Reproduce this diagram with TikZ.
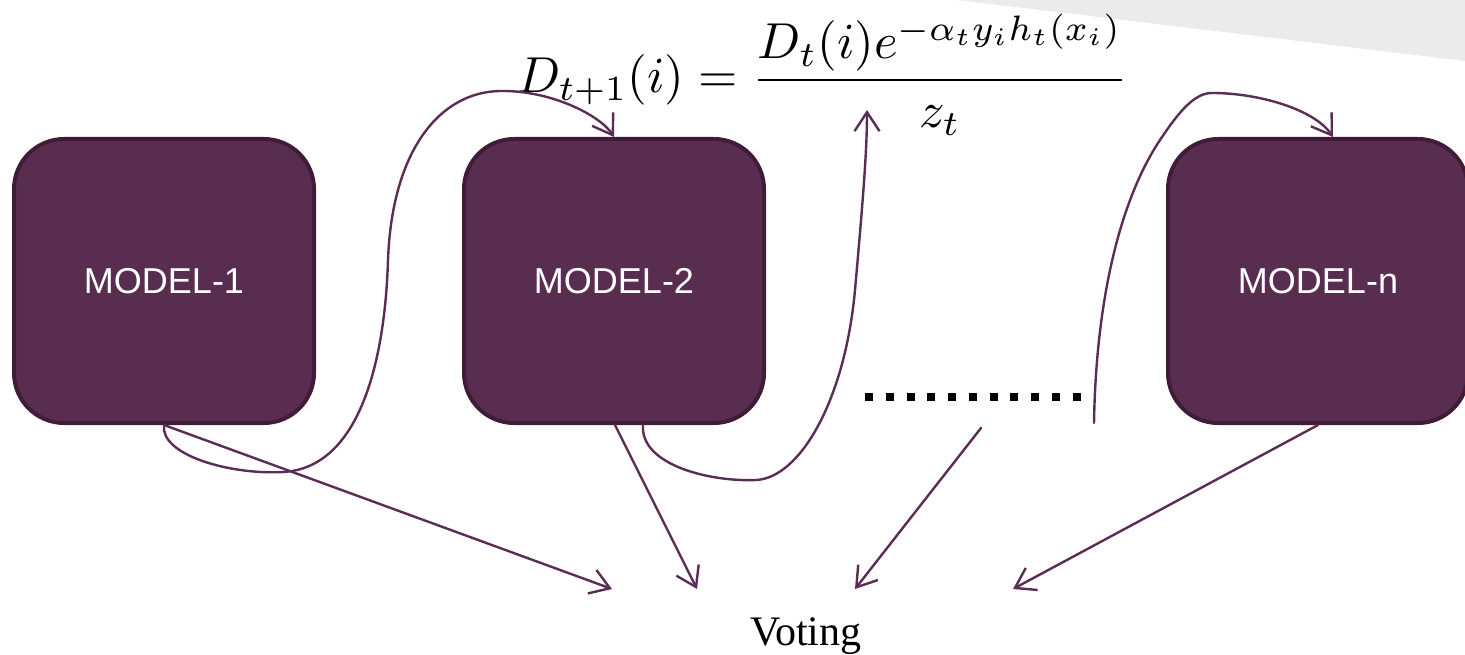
\documentclass[tikz,border=0pt]{standalone}
\usepackage{fontspec}
\newfontfamily\labelfont{Liberation Sans}
\newfontfamily\captionfont{Liberation Serif}
\usetikzlibrary{arrows.meta}
\definecolor{plum}{HTML}{592D4F}
\definecolor{plumedge}{HTML}{401C39}
\definecolor{wire}{HTML}{5A2D55}
\definecolor{band}{HTML}{EBEBEB}
\begin{document}
\begin{tikzpicture}[x=1pt,y=-1pt,
  model/.style={draw=plumedge, line width=4pt, fill=plum, rounded corners=50pt,
    minimum width=300pt, minimum height=284pt, inner sep=0pt,
    text=white, font=\labelfont\fontsize{36}{40}\selectfont},
  link/.style={draw=wire, line width=2.4pt, line cap=round,
    -{Straight Barb[length=19pt,width=25pt]}},
  dotmark/.style={fill=black}]
\useasboundingbox (0,0) rectangle (1465,655);

% light band in the upper right corner
\fill[band] (957,0) -- (1465,0) -- (1465,61) -- cycle;

% models
\node[model] (m1) at (164,281) {MODEL-1};
\node[model] (m2) at (614,281) {MODEL-2};
\node[model] (mn) at (1318,281) {MODEL-n};

% weight update rule (set at 10pt and enlarged)
\node[anchor=base west, inner sep=0pt, scale=5.05] (rule) at (516,93)
  {$\displaystyle D_{t+1}(i)=\frac{D_t(i)e^{-\alpha_t y_i h_t(x_i)}}{z_t}$};

% ellipsis between model 2 and model n
\foreach \k in {0,...,10}
  \fill[dotmark] (865+20.75*\k,393) rectangle ++(8,8);

% combiner
\node[anchor=base west, inner sep=0pt, font=\captionfont\fontsize{42}{48}\selectfont]
  (vote) at (750,645) {Voting};

% free ends of the connectors
\coordinate (v1) at (612,589);
\coordinate (v2) at (697,589);
\coordinate (v3) at (855,589);
\coordinate (v4) at (1013,589);
\coordinate (up) at (867,110);
\coordinate (d0) at (981,428);
\coordinate (cn) at (1094,423);

% votes
\draw[link] (m1.south) -- (v1);
\draw[link] ([xshift=1pt]m2.south) -- (v2);
\draw[link] (d0) -- (v3);
\draw[link] (mn.south) -- (v4);

% reweighting loops
\draw[link] (m1.south)
  .. controls (160,455) and (230,475) .. (283,472)
  .. controls (360,468) and (385,360) .. (388,260)
  .. controls (392,150) and (440,92) .. (500,91)
  .. controls (550,90) and (600,115) .. (m2.north);
\draw[link] ([xshift=29pt]m2.south)
  .. controls (640,465) and (710,482) .. (756,480)
  .. controls (800,478) and (845,400) .. (855,290)
  .. controls (863,200) and (867,150) .. (up);
\draw[link] (cn)
  .. controls (1096,300) and (1120,200) .. (1160,140)
  .. controls (1180,110) and (1195,93) .. (1212,93)
  .. controls (1260,93) and (1315,110) .. ([xshift=15pt]mn.north);
\end{tikzpicture}
\end{document}
